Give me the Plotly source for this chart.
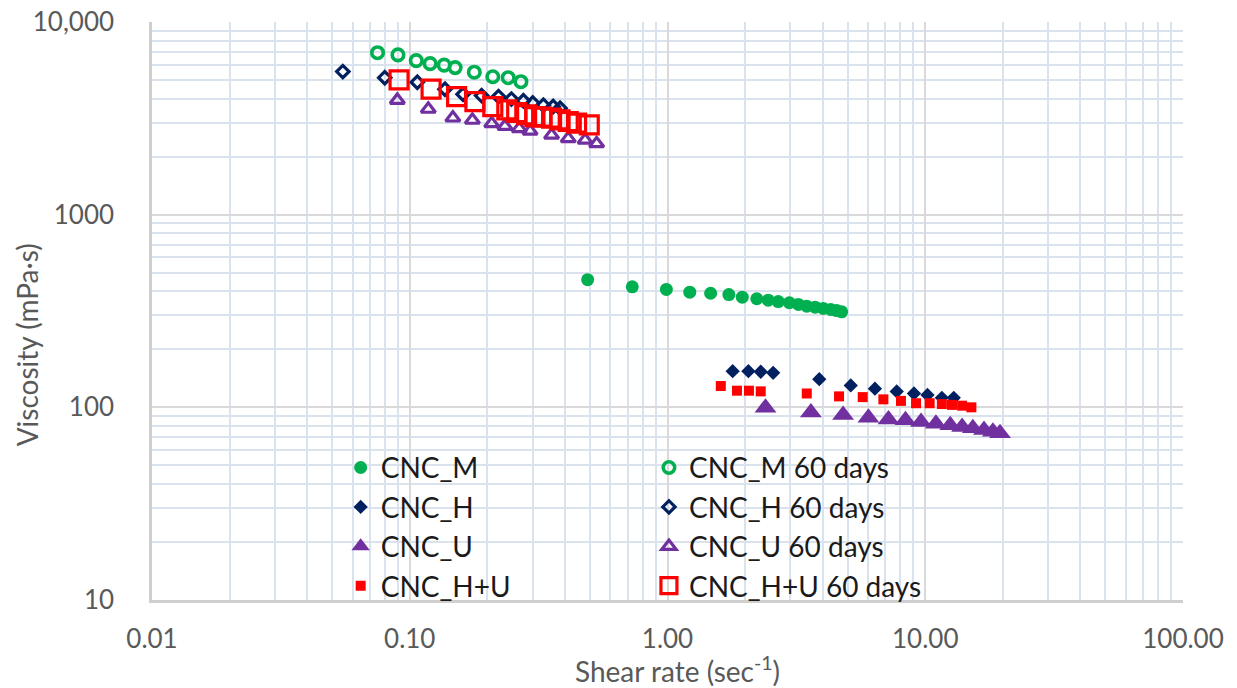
import plotly.graph_objects as go

# Shear rate (1/s) and viscosity (mPa·s) for each sample
shear_M = [0.49, 0.73, 0.99, 1.22, 1.47, 1.73, 1.95, 2.22, 2.46, 2.69, 2.97, 3.22, 3.47, 3.74, 4.02, 4.30, 4.53, 4.74]
visc_M = [460, 422, 409, 396, 391, 385, 373, 366, 360, 354, 349, 342, 335, 331, 326, 322, 318, 313]

shear_M60 = [0.075, 0.090, 0.106, 0.120, 0.136, 0.150, 0.178, 0.210, 0.241, 0.270]
visc_M60 = [6930, 6750, 6300, 6080, 5970, 5800, 5490, 5200, 5140, 4900]

shear_H = [1.79, 2.06, 2.30, 2.57, 3.88, 5.14, 6.38, 7.75, 9.04, 10.2, 11.6, 12.9]
visc_H = [154, 154, 153, 151, 140, 130, 125, 121, 118, 116, 112, 112]

shear_H60 = [0.055, 0.080, 0.107, 0.137, 0.161, 0.190, 0.221, 0.248, 0.276, 0.300, 0.330, 0.360, 0.383]
visc_H60 = [5530, 5140, 4870, 4480, 4220, 4150, 4100, 3980, 3900, 3800, 3700, 3640, 3570]

shear_U = [2.40, 3.60, 4.80, 6.02, 7.20, 8.38, 9.63, 11.0, 12.5, 13.9, 15.3, 16.9, 18.3, 19.5]
visc_U = [99.6, 93.9, 91.2, 88.4, 86.4, 85.6, 83.9, 82.3, 80.7, 79.1, 77.8, 76.3, 74.8, 73.3]

shear_U60 = [0.0895, 0.118, 0.147, 0.175, 0.208, 0.234, 0.266, 0.293, 0.355, 0.412, 0.479, 0.531]
visc_U60 = [3930, 3530, 3180, 3095, 2970, 2880, 2800, 2715, 2590, 2485, 2440, 2340]

shear_HU = [1.61, 1.86, 2.07, 2.30, 3.47, 4.63, 5.72, 6.88, 8.05, 9.21, 10.4, 11.6, 12.7, 13.9, 15.1]
visc_HU = [129, 122, 122, 121, 118, 114, 113, 110, 108, 105, 105, 104, 103, 102, 100]

shear_HU60 = [0.0909, 0.121, 0.152, 0.179, 0.210, 0.238, 0.260, 0.284, 0.306, 0.325, 0.355, 0.383, 0.412, 0.444, 0.497]
visc_HU60 = [5005, 4480, 4100, 3865, 3640, 3500, 3390, 3300, 3230, 3205, 3170, 3105, 3045, 2985, 2925]

x_tickvals = [0.01, 0.1, 1, 10, 100]
x_ticktext = ["0.01", "0.10", "1.00", "10.00", "100.00"]
y_tickvals = [10, 100, 1000, 10000]
y_ticktext = ["10", "100", "1000", "10,000"]

x_title = "Shear rate (sec<sup>-1</sup>)"
y_title = "Viscosity (mPa·s)"

GREEN = "#00b050"
NAVY = "#002060"
PURPLE = "#7030a0"
RED = "#ff0000"

# minor gridline positions: 2..9 within every decade
x_minor = [m * 10.0 ** e for e in range(-2, 2) for m in range(2, 10)]
y_minor = [m * 10.0 ** e for e in range(1, 4) for m in range(2, 10)]

fig = go.Figure()

series = [
    ("CNC_M", shear_M, visc_M, dict(symbol="circle", size=13, color=GREEN), "legend"),
    ("CNC_M 60 days", shear_M60, visc_M60,
     dict(symbol="circle-open", size=11.5, color=GREEN, line=dict(width=3.6, color=GREEN)), "legend2"),
    ("CNC_H", shear_H, visc_H, dict(symbol="diamond", size=11, color=NAVY), "legend"),
    ("CNC_H 60 days", shear_H60, visc_H60,
     dict(symbol="diamond-open", size=9.5, color=NAVY, line=dict(width=3.2, color=NAVY)), "legend2"),
    ("CNC_U", shear_U, visc_U, dict(symbol="triangle-up", size=19, color=PURPLE), "legend"),
    ("CNC_U 60 days", shear_U60, visc_U60,
     dict(symbol="triangle-up-open", size=12.5, color=PURPLE, line=dict(width=3.2, color=PURPLE)), "legend2"),
    ("CNC_H+U", shear_HU, visc_HU, dict(symbol="square", size=10, color=RED), "legend"),
    ("CNC_H+U 60 days", shear_HU60, visc_HU60,
     dict(symbol="square-open", size=18, color=RED, line=dict(width=3.2, color=RED)), "legend2"),
]

for i, (name, xs, ys, marker, leg) in enumerate(series):
    fig.add_trace(go.Scatter(
        x=xs, y=ys, mode="markers", name=name, marker=marker,
        legend=leg, legendgroup=f"g{i}",
    ))

FAMILY = "Lato, 'Open Sans', sans-serif"
TICK_FONT = dict(family=FAMILY, size=26, color="#595959")
TITLE_FONT = dict(family=FAMILY, size=28, color="#595959")
LEG_FONT = dict(family=FAMILY, size=28, color="#1a1a1a")

fig.update_layout(
    width=1237, height=688,
    margin=dict(l=152, r=54, t=22, b=88),
    paper_bgcolor="white", plot_bgcolor="white",
    showlegend=True,
    legend=dict(x=0.183, y=0.272, xanchor="left", yanchor="top",
                bgcolor="rgba(0,0,0,0)", font=LEG_FONT, tracegroupgap=0,
                itemsizing="trace"),
    legend2=dict(x=0.482, y=0.272, xanchor="left", yanchor="top",
                 bgcolor="rgba(0,0,0,0)", font=LEG_FONT, tracegroupgap=0,
                 itemsizing="trace"),
    xaxis=dict(
        type="log", range=[-2, 2], automargin=False,
        tickvals=x_tickvals, ticktext=x_ticktext, tickfont=TICK_FONT,
        ticks="", ticklabelstandoff=14,
        showgrid=True, gridcolor="#d9d9d9", gridwidth=2,
        minor=dict(tickvals=x_minor, showgrid=True, gridcolor="#dae2ee", gridwidth=1.5, ticks=""),
        showline=True, linecolor="#cfcfcf", linewidth=2.5,
        zeroline=False,
    ),
    yaxis=dict(
        type="log", range=[1, 4], automargin=False,
        tickvals=y_tickvals, ticktext=y_ticktext, tickfont=TICK_FONT,
        ticks="", ticklabelstandoff=30,
        showgrid=True, gridcolor="#d9d9d9", gridwidth=2,
        minor=dict(tickvals=y_minor, showgrid=True, gridcolor="#dae2ee", gridwidth=1.5, ticks=""),
        showline=True, linecolor="#cfcfcf", linewidth=2.5,
        zeroline=False,
    ),
    annotations=[
        dict(text=x_title, xref="paper", yref="paper", x=0.510, y=-0.121,
             xanchor="center", yanchor="middle", showarrow=False, font=TITLE_FONT),
        dict(text=y_title, xref="paper", yref="paper", x=-0.121, y=0.441,
             xanchor="center", yanchor="middle", textangle=-90, showarrow=False,
             font=TITLE_FONT),
    ],
)

fig.write_html("out.html")
